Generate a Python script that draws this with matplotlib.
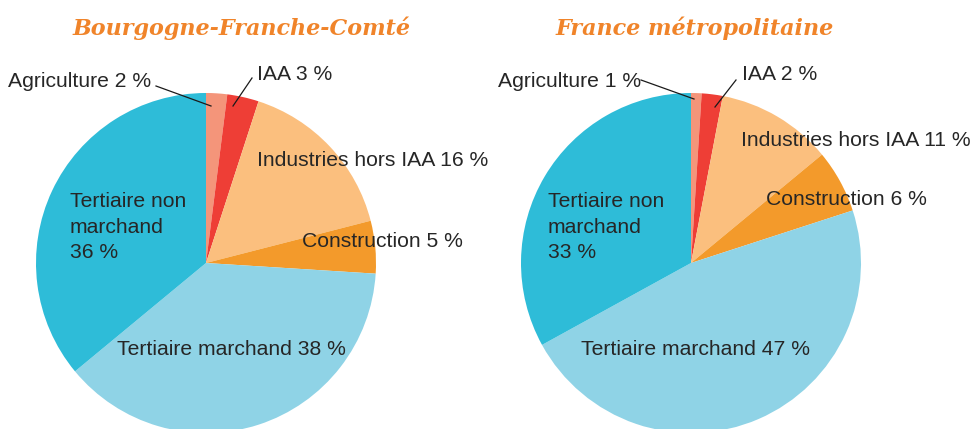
import matplotlib
matplotlib.use("Agg")
import matplotlib.pyplot as plt

# ── Data ─────────────────────────────────────────────────────
sectors = ["Agriculture", "IAA", "Industries hors IAA", "Construction",
           "Tertiaire marchand", "Tertiaire non marchand"]
bfc_share = [2, 3, 16, 5, 38, 36]
france_share = [1, 2, 11, 6, 47, 33]
titles = ["Bourgogne-Franche-Comté", "France métropolitaine"]

bfc_labels = ["Agriculture 2 %", "IAA 3 %", "Industries hors IAA 16 %",
              "Construction 5 %", "Tertiaire marchand 38 %",
              "Tertiaire non\nmarchand\n36 %"]
france_labels = ["Agriculture 1 %", "IAA 2 %", "Industries hors IAA 11 %",
                 "Construction 6 %", "Tertiaire marchand 47 %",
                 "Tertiaire non\nmarchand\n33 %"]

colors = ["#f4957a", "#ee3e36", "#fbbf7e", "#f39a2b", "#8fd3e6", "#2ebcd8"]

# ── Layout (pixel coords, y measured from top) ──────────────
W, H = 974, 429
TEXT = "#262626"
TITLE_COLOR = "#f0842a"

# label y = baseline of the last line of the label
pies = [
    {
        "values": bfc_share, "labels": bfc_labels, "title": titles[0],
        "center": (206, 263), "title_x": 242,
        "label_pos": [(8, 87), (257, 80), (257, 166), (302, 247),
                      (117, 355), (70, 258)],
        "leaders": [((156, 86), (211, 106)), ((252, 78), (233, 106))],
    },
    {
        "values": france_share, "labels": france_labels, "title": titles[1],
        "center": (691, 263), "title_x": 695,
        "label_pos": [(498, 87), (742, 80), (741, 146), (766, 205),
                      (581, 355), (548, 258)],
        "leaders": [((641, 80), (694, 99)), ((736, 80), (715, 107))],
    },
]
RADIUS = 170

fig = plt.figure(figsize=(W / 100, H / 100), dpi=100)
ax = fig.add_axes([0, 0, 1, 1])

for p in pies:
    cx, cy = p["center"]
    ax.pie(p["values"], colors=colors, startangle=90, counterclock=False,
           center=(cx, H - cy), radius=RADIUS,
           wedgeprops=dict(linewidth=0, antialiased=True))

    for lab, (x, y) in zip(p["labels"], p["label_pos"]):
        ax.text(x, H - y, lab, ha="left", va="baseline", fontsize=15.2,
                family="Liberation Sans", color=TEXT, linespacing=1.42)

    for (x0, y0), (x1, y1) in p["leaders"]:
        ax.plot([x0, x1], [H - y0, H - y1], color="#1a1a1a", lw=0.9)

    ax.text(p["title_x"], H - 35, p["title"], ha="center", va="baseline",
            fontsize=16, family="DejaVu Serif", style="italic",
            weight="bold", color=TITLE_COLOR)

ax.set_xlim(0, W)
ax.set_ylim(0, H)
ax.set_aspect("auto")
ax.axis("off")

fig.savefig("out.png", dpi=100)
